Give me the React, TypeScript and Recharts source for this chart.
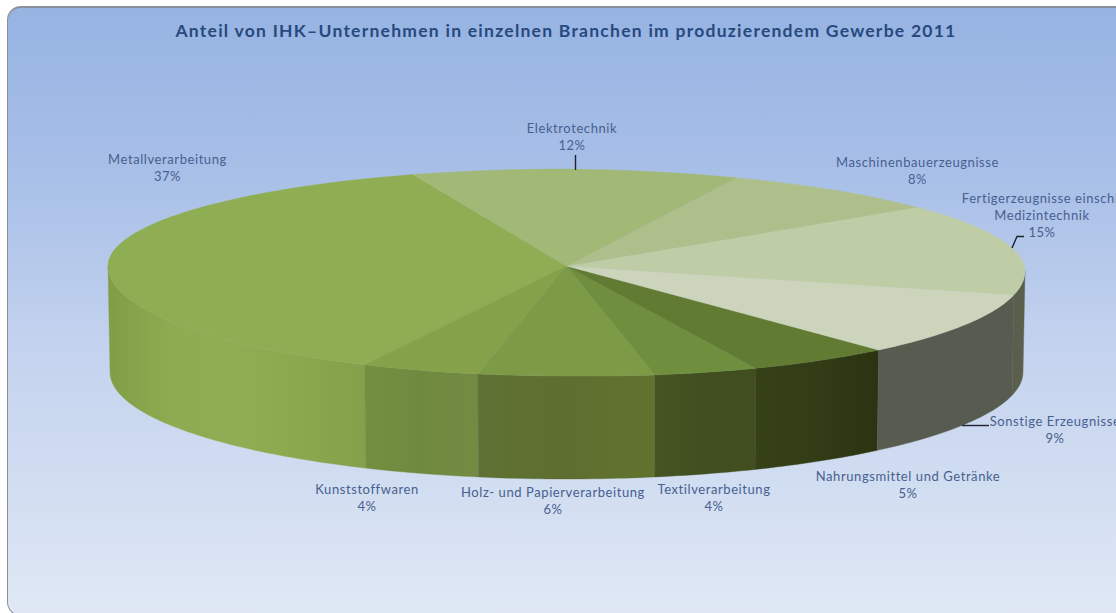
import React from "react";
import { PieChart, Pie, Cell } from "recharts";

const categories: string[][] = [
  ["Metallverarbeitung"],
  ["Kunststoffwaren"],
  ["Holz- und Papierverarbeitung"],
  ["Textilverarbeitung"],
  ["Nahrungsmittel und Getränke"],
  ["Sonstige Erzeugnisse"],
  ["Fertigerzeugnisse einschl.", "Medizintechnik"],
  ["Maschinenbauerzeugnisse"],
  ["Elektrotechnik"],
];
// Slice sizes (the printed labels are rounded).
const shares = [37.3, 4.16, 6.18, 3.69, 5.14, 9.58, 14.65, 7.82, 11.47];
const percentLabels = ["37%", "4%", "6%", "4%", "5%", "9%", "15%", "8%", "12%"];
const topColors = ["#8fad52", "#85a24a", "#7d9b47", "#6f8f3e", "#617b32", "#ccd5bc", "#bfcda6", "#aebf8b", "#a2b877"];
const wallColors = [
  ["#819e47", "#8dab50", "#8fad52", "#8ba84e", "#83a04b"],
  ["#758f41", "#6f8a3f", "#738a42"],
  ["#5f7134", "#5e6e30", "#62732f"],
  ["#465523", "#414e20", "#414e20"],
  ["#364118", "#323c16", "#2b3312"],
  ["#585b50", "#585b50", "#585b50"],
  ["#5a5e4c", "#5a5e4c", "#5a5e4c"],
  ["#5a5e4c", "#5a5e4c", "#5a5e4c"],
  ["#5a5e4c", "#5a5e4c", "#5a5e4c"],
];

const data = categories.map((lines, i) => ({
  name: lines.join(" "),
  lines,
  value: shares[i],
  percent: percentLabels[i],
}));

const WIDTH = 1116;
const HEIGHT = 613;
const CX = 566.5;
const CY = 266;
const RX = 458.5;
const RY_BACK = 97;
const RY_FRONT = 110;
const TILT = 5;
const WALL_OFFSET = 106;
const WALL_RY = 107;
const WALL_INSET = 2;
const FONT = "Lato, 'Noto Sans', sans-serif";
const LABEL_COLOR = "#47608f";

const labelX = [167.5, 367, 553, 714, 908, 1055, 1042, 917.5, 572];
const labelY = [164, 494, 497, 494, 481, 426, 203, 167, 133];
const leaders: (string | null)[] = [
  null, null, null, null, null,
  "M962 425.5H989",
  "M1012 248L1017 236.5H1024",
  null,
  "M575.5 155V170",
];

const rad = (d: number) => (d * Math.PI) / 180;

function rim(cx: number, cy: number, rx: number, deg: number) {
  const c = Math.cos(rad(deg));
  const s = Math.sin(rad(deg));
  const ry = s > 0 ? RY_BACK : RY_FRONT;
  return [cx + rx * c, cy - ry * s + TILT * Math.max(c, 0)];
}
function wallFloor(cx: number, cy: number, rx: number, deg: number) {
  const c = Math.cos(rad(deg));
  const s = Math.sin(rad(deg));
  return [cx + (rx - WALL_INSET) * c, cy + WALL_OFFSET - WALL_RY * s];
}
function sweep(a: number, b: number) {
  const n = Math.max(2, Math.ceil(Math.abs(b - a)));
  return Array.from({ length: n + 1 }, (_, i) => a + ((b - a) * i) / n);
}
const toPath = (pts: number[][]) => pts.map((p, i) => `${i ? "L" : "M"}${p[0].toFixed(2)} ${p[1].toFixed(2)}`).join("") + "Z";

function Slice(props: any) {
  const { cx, cy, outerRadius, startAngle, endAngle, fill, index } = props;
  const top = [[cx, cy], ...sweep(startAngle, endAngle).map((d) => rim(cx, cy, outerRadius, d))];
  const from = Math.max(startAngle, 180);
  const to = Math.min(endAngle, 360);
  const stops = wallColors[index];
  return (
    <g>
      {to > from && (
        <>
          <defs>
            <linearGradient id={`wall-${index}`} x1="0" y1="0" x2="1" y2="0">
              {stops.map((c, i) => (
                <stop key={i} offset={i / (stops.length - 1)} stopColor={c} />
              ))}
            </linearGradient>
          </defs>
          <path
            d={toPath([
              ...sweep(from, to).map((d) => rim(cx, cy, outerRadius, d)),
              ...sweep(to, from).map((d) => wallFloor(cx, cy, outerRadius, d)),
            ])}
            fill={`url(#wall-${index})`}
            stroke={`url(#wall-${index})`}
            strokeWidth={0.4}
          />
        </>
      )}
      <path d={toPath(top)} fill={fill} stroke={fill} strokeWidth={0.4} />
    </g>
  );
}

function SliceLabel(props: any) {
  const { index } = props;
  const d = data[index];
  const x = labelX[index];
  const y = labelY[index];
  return (
    <g>
      {leaders[index] && <path d={leaders[index] as string} fill="none" stroke="#1c2230" strokeWidth={1.4} />}
      <text x={x} y={y} textAnchor="middle" fontFamily={FONT} fontSize={13} fill={LABEL_COLOR} letterSpacing={0.58}>
        {[...d.lines, d.percent].map((line, i) => (
          <tspan key={i} x={x} dy={i ? 17 : 0}>
            {line}
          </tspan>
        ))}
      </text>
    </g>
  );
}

export default function App() {
  return (
    <div style={{ position: "absolute", left: 0, top: 0, width: WIDTH, height: HEIGHT, overflow: "hidden", background: "#fff" }}>
      <div
        style={{
          position: "absolute",
          left: 7,
          top: 6,
          width: 1125,
          height: 610,
          boxSizing: "border-box",
          borderRadius: 14,
          border: "1px solid #8b9099",
          borderTopWidth: 2,
          background: "linear-gradient(180deg,#96b3e2 0%,#aac1e8 30%,#c3d2ee 55%,#d2def1 80%,#e0e8f5 100%)",
        }}
      />
      <div
        style={{
          position: "absolute",
          left: 0,
          top: 20,
          width: 1132,
          textAlign: "center",
          fontFamily: FONT,
          fontWeight: 700,
          fontSize: 17.5,
          letterSpacing: 1.25,
          color: "#27497d",
          whiteSpace: "nowrap",
        }}
      >
        Anteil von IHK–Unternehmen in einzelnen Branchen im produzierendem Gewerbe 2011
      </div>
      <div style={{ position: "absolute", left: 0, top: 0 }}>
        <PieChart width={WIDTH} height={HEIGHT} margin={{ top: 0, right: 0, bottom: 0, left: 0 }}>
          <Pie
            data={data}
            dataKey="value"
            nameKey="name"
            cx={CX}
            cy={CY}
            innerRadius={0}
            outerRadius={RX}
            startAngle={109.6}
            endAngle={469.6}
            stroke="none"
            isAnimationActive={false}
            shape={Slice}
            label={SliceLabel}
            labelLine={false}
          >
            {data.map((d, i) => (
              <Cell key={d.name} fill={topColors[i]} />
            ))}
          </Pie>
        </PieChart>
      </div>
    </div>
  );
}
